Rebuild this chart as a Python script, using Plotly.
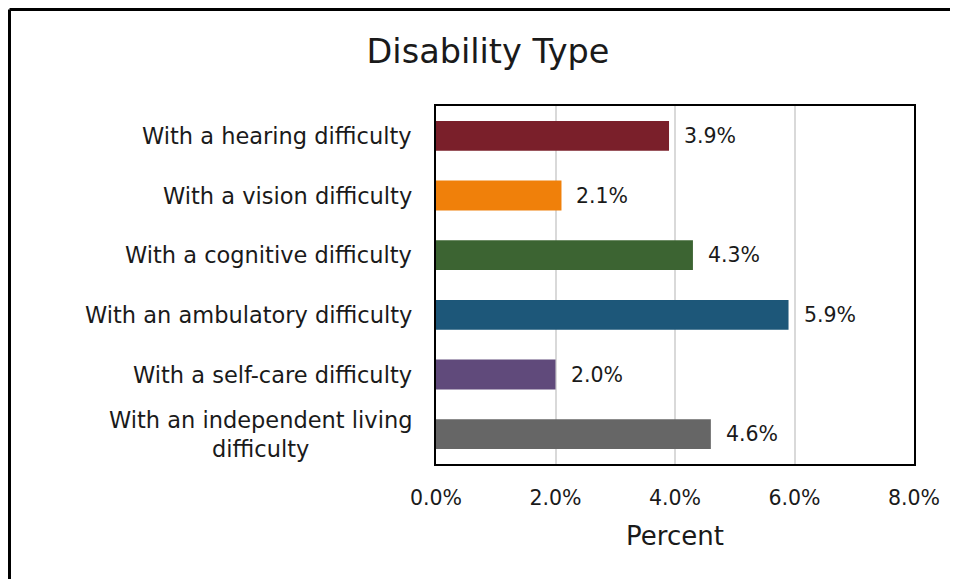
import plotly.graph_objects as go

categories = [
    "With a hearing difficulty",
    "With a vision difficulty",
    "With a cognitive difficulty",
    "With an ambulatory difficulty",
    "With a self-care difficulty",
    "With an independent living<br>difficulty",
]
values = [3.9, 2.1, 4.3, 5.9, 2.0, 4.6]
colors = ["#7A1F2A", "#F0800A", "#3C6432", "#1D5779", "#604A7B", "#666666"]
x_ticks = [0, 2, 4, 6, 8]
x_tick_labels = ["0.0%", "2.0%", "4.0%", "6.0%", "8.0%"]

FONT = "DejaVu Sans"
TXT = "#1a1a1a"

# page has an 8px body margin; work in page pixels and subtract it
OFF = 8
W, H = 958 - OFF, 579 - OFF
L, R, T, B = 436 - OFF, 914 - OFF, 106 - OFF, 464 - OFF
pw, ph = R - L, B - T


def px(x):
    return (x - OFF - L) / pw


def py(y):
    return (B - (y - OFF)) / ph


fig = go.Figure()
fig.add_trace(go.Bar(
    y=categories,
    x=values,
    orientation="h",
    marker=dict(color=colors, line=dict(width=0)),
    width=0.5,
    cliponaxis=False,
    hoverinfo="skip",
))

for c, v in zip(categories, values):
    fig.add_annotation(
        x=v, xref="x", y=c, yref="y",
        text=f"{v:.1f}%", showarrow=False, xanchor="left",
        xshift=13, font=dict(family=FONT, size=20.5, color=TXT),
    )

for c in categories:
    fig.add_annotation(
        x=0, xref="paper", y=c, yref="y",
        text=c, showarrow=False, xanchor="right", align="center",
        xshift=-22, font=dict(family=FONT, size=22.5, color=TXT),
    )

fig.add_shape(type="line", xref="paper", yref="paper",
              x0=px(9.5), x1=px(958), y0=py(9.5), y1=py(9.5),
              line=dict(color="black", width=3))
fig.add_shape(type="line", xref="paper", yref="paper",
              x0=px(9.5), x1=px(9.5), y0=py(9.5), y1=py(579),
              line=dict(color="black", width=3))

fig.update_layout(
    width=W, height=H,
    margin=dict(l=L, r=W - R, t=T, b=H - B, pad=0),
    paper_bgcolor="white", plot_bgcolor="white",
    showlegend=False,
    title=dict(text="Disability Type", x=(488 - OFF) / W, xanchor="center",
               y=1 - (51 - OFF) / H, yanchor="middle",
               font=dict(family=FONT, size=33.5, color=TXT)),
    xaxis=dict(
        range=[0, 8], tickvals=x_ticks, ticktext=x_tick_labels,
        showgrid=True, gridcolor="#D9D9D9", gridwidth=2,
        zeroline=False, showline=True, linecolor="black", linewidth=2,
        mirror=True, ticks="", ticklabelstandoff=14,
        tickfont=dict(family=FONT, size=20.5, color=TXT),
        title=dict(text="Percent", font=dict(family=FONT, size=26, color=TXT), standoff=18),
        fixedrange=True,
    ),
    yaxis=dict(
        autorange="reversed", showticklabels=False, ticks="",
        showgrid=False, zeroline=False, showline=True, linecolor="black",
        linewidth=2, mirror=True, fixedrange=True,
    ),
    bargap=0.5,
)

fig.write_html("out.html")
